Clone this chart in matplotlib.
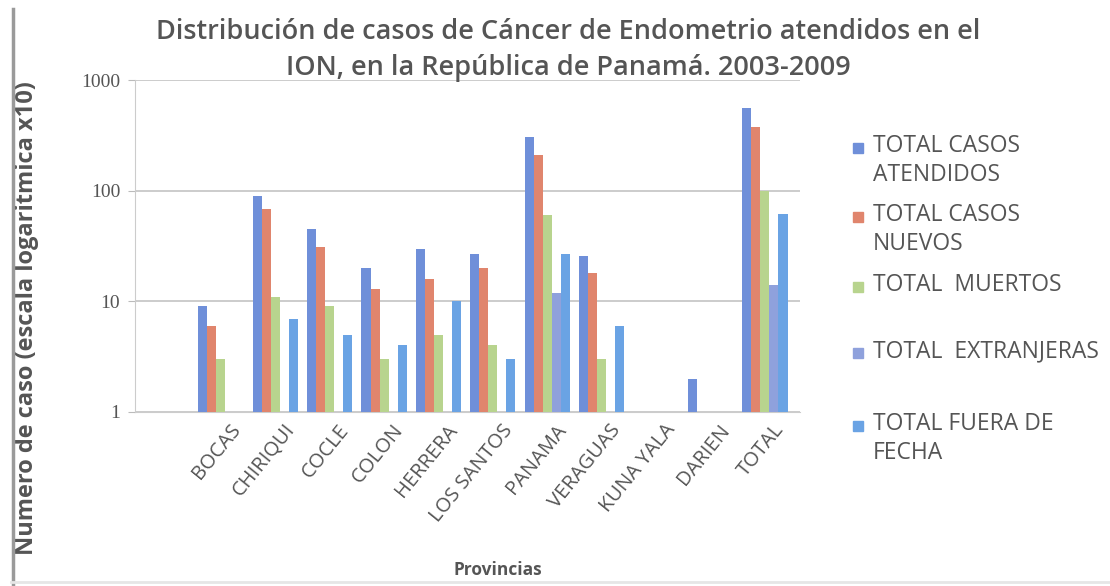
import numpy as np
import matplotlib.pyplot as plt
from matplotlib.patches import Rectangle
from matplotlib.lines import Line2D

plt.rcParams['font.family'] = ['Open Sans', 'DejaVu Sans']

provincias = ['BOCAS', 'CHIRIQUI', 'COCLE', 'COLON', 'HERRERA', 'LOS SANTOS',
              'PANAMA', 'VERAGUAS', 'KUNA YALA', 'DARIEN', 'TOTAL']
casos_atendidos = [9, 90, 45, 20, 30, 27, 310, 26, 1, 2, 560]
casos_nuevos = [6, 68, 31, 13, 16, 20, 210, 18, 1, 1, 380]
muertos = [3, 11, 9, 3, 5, 4, 60, 3, 1, 1, 100]
extranjeras = [1, 1, 1, 1, 1, 1, 12, 1, 1, 1, 14]
fuera_fecha = [1, 7, 5, 4, 10, 3, 27, 6, 1, 1, 62]

series = [casos_atendidos, casos_nuevos, muertos, extranjeras, fuera_fecha]
nombres = ['TOTAL CASOS\nATENDIDOS', 'TOTAL CASOS\nNUEVOS', 'TOTAL  MUERTOS',
           'TOTAL  EXTRANJERAS', 'TOTAL FUERA DE\nFECHA']
colores = ['#6f8fd9', '#e0856d', '#b8d48e', '#8fa1dc', '#6aa3e4']

gris = '#555555'

fig = plt.figure(figsize=(11.1, 5.86), dpi=100)
ax = fig.add_axes([0.122, 0.297, 0.599, 0.566])

x = np.arange(len(provincias))
w = 0.166
for i, (vals, col) in enumerate(zip(series, colores)):
    ax.bar(x - 2 * w + i * w, vals, width=w, bottom=1e-3, color=col,
           edgecolor='none', zorder=3)

ax.set_yscale('log')
ax.set_ylim(1, 1000)
ax.set_xlim(-1.57, 10.65)
ax.set_yticks([1, 10, 100, 1000])
ax.set_yticklabels(['1', '10', '100', '1000'], family='Liberation Serif',
                   fontsize=14, color=gris)
ax.minorticks_off()
ax.yaxis.grid(True, color='#c4c4c4', lw=1.2, zorder=0)
ax.tick_params(axis='y', length=5, color='#bbbbbb', pad=6)
ax.tick_params(axis='x', length=0, pad=6)
for s in ['top', 'right']:
    ax.spines[s].set_visible(False)
ax.spines['left'].set_color('#cccccc')
ax.spines['bottom'].set_color('#cccccc')

ax.set_xticks(x + 0.15)
ax.set_xticklabels(provincias, rotation=51, ha='right', rotation_mode='anchor',
                   fontsize=14.5, color=gris)

ax.set_ylabel('Numero de caso (escala logaritmica x10)', fontsize=17,
              fontweight='bold', color=gris)
ax.yaxis.set_label_coords(-0.145, 0.283)
ax.set_xlabel('Provincias', fontsize=12.5, fontweight='bold', color=gris)
ax.xaxis.set_label_coords(0.545, -0.45)

fig.text(0.512, 0.97, 'Distribución de casos de Cáncer de Endometrio atendidos en el\n'
         'ION, en la República de Panamá. 2003-2009', ha='center', va='top',
         fontsize=19.5, fontweight='semibold', color=gris, linespacing=1.4)

# leyenda
ys = [147, 216, 286, 352, 425]
for nombre, col, yp in zip(nombres, colores, ys):
    fig.add_artist(Rectangle((853 / 1110, 1 - (yp + 6) / 586), 10 / 1110, 10 / 586,
                             transform=fig.transFigure, color=col))
    fig.text(873 / 1110, 1 - (yp - 13) / 586, nombre, ha='left', va='top',
             fontsize=16.5, color=gris, linespacing=1.3)

fig.add_artist(Line2D([13 / 1110, 13 / 1110], [0.0, 0.985], transform=fig.transFigure,
                      color='#9a9a9a', lw=2.5))
fig.add_artist(Line2D([0.01, 1.0], [0.006, 0.006], transform=fig.transFigure,
                      color='#e6e6e6', lw=2))

fig.savefig('out.png', dpi=100, facecolor='white')
